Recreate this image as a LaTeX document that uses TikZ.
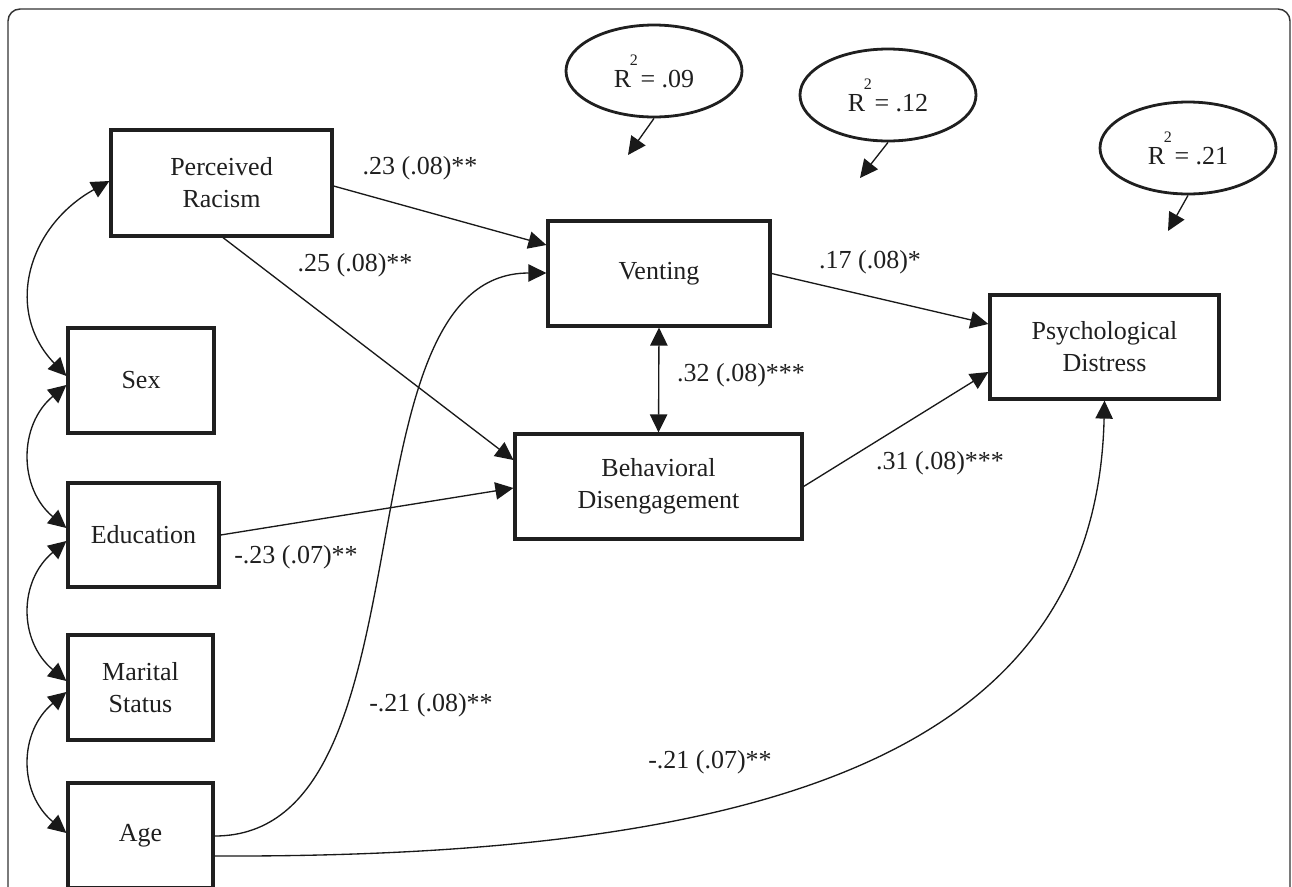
\documentclass[tikz,border=0pt]{standalone}
\usepackage{fontspec}
\setmainfont{Liberation Serif}
\usetikzlibrary{arrows.meta,calc,shapes.geometric}
\begin{document}
\begin{tikzpicture}[x=0.75pt,y=-0.75pt,
  font=\fontsize{19.5}{24}\selectfont,
  every node/.style={text=black!88},
  box/.style={draw=black!88,line width=2.4pt,rectangle,align=center,inner sep=0pt},
  rsq/.style={draw=black!88,line width=2.1pt,ellipse,minimum width=132pt,minimum height=69pt,inner sep=0pt},
  conn/.style={draw=black!90,line width=1pt,-{Triangle[length=13.5pt,width=13pt]}},
  dconn/.style={draw=black!90,line width=1pt,{Triangle[length=13.5pt,width=13pt]}-{Triangle[length=13.5pt,width=13pt]}},
  lab/.style={inner sep=0pt}
]
\useasboundingbox (0,0) rectangle (1292,886);
\draw[line width=1.1pt,black!80,rounded corners=9pt] (8,9) rectangle (1290,900);

% boxes
\node[box,minimum width=165.75pt,minimum height=79.5pt] (PR) at (221.5,183) {Perceived\\Racism};
\node[box,minimum width=109.5pt,minimum height=78.75pt] (Sex) at (141,380.5) {Sex};
\node[box,minimum width=113.25pt,minimum height=78pt] (Edu) at (143.5,535) {Education};
\node[box,minimum width=108.75pt,minimum height=78.75pt] (Mar) at (140.5,687.5) {Marital\\Status};
\node[box,minimum width=108.75pt,minimum height=78.75pt] (Age) at (140.5,835.5) {Age};
\node[box,minimum width=166.5pt,minimum height=78.75pt] (Vent) at (659,273.5) {Venting};
\node[box,minimum width=215.25pt,minimum height=78.75pt] (Beh) at (658.5,486.5) {Behavioral\\Disengagement};
\node[box,minimum width=171.75pt,minimum height=78pt] (Psy) at (1104.5,347) {Psychological\\Distress};

% R squared ellipses
\newcommand{\rsqtext}[1]{R\kern-1pt\raisebox{0.85em}{\fontsize{12}{12}\selectfont 2}\kern2pt= #1}
\node[rsq] (E1) at (654,71) {\rsqtext{.09}};
\node[rsq] (E2) at (888,95) {\rsqtext{.12}};
\node[rsq] (E3) at (1188,148) {\rsqtext{.21}};
\coordinate (t1) at (628,155);
\coordinate (t2) at (860,178);
\coordinate (t3) at (1168,231);
\draw[conn] (E1.south) -- (t1);
\draw[conn] (E2.south) -- (t2);
\draw[conn] (E3.south) -- (t3);

% paths
\draw[conn] ($(PR.east)+(0,3)$) -- ($(Vent.west)+(0,-28.5)$);
\draw[conn] ($(PR.south)+(1.5,0)$) -- ($(Beh.west)+(0,-26.5)$);
\draw[conn] (Vent.east) -- ($(Psy.west)+(0,-23)$);
\draw[conn] (Beh.east) -- ($(Psy.west)+(0,25)$);
\draw[dconn] (Vent.south) -- (Beh.north);
\draw[conn] (Edu.east) -- ($(Beh.west)+(0,1.5)$);
\draw[conn] ($(Age.east)+(0,0.5)$) .. controls +(225,0) and +(-215,0) .. ($(Vent.west)+(0,-0.5)$);
\draw[conn] ($(Age.east)+(0,20.5)$) .. controls +(560,2) and +(-8,350) .. (Psy.south);

% covariances
\draw[dconn] ($(PR.west)+(0,-2)$) .. controls +(-81,45) and +(-63,-66) .. ($(Sex.west)+(0,-4.5)$);
\draw[dconn] ($(Sex.west)+(0,4.5)$) .. controls +(-48,40) and +(-48,-40) .. ($(Edu.west)+(0,-7)$);
\draw[dconn] ($(Edu.west)+(0,6)$) .. controls +(-48,40) and +(-48,-40) .. ($(Mar.west)+(0,-6.5)$);
\draw[dconn] ($(Mar.west)+(0,4.5)$) .. controls +(-48,40) and +(-48,-40) .. ($(Age.west)+(0,-2.5)$);

% labels
\node[lab] (l1) at (420,168) {.23 (.08)**};
\node[lab] (l2) at (355,265) {.25 (.08)**};
\node[lab] (l3) at (870,262) {.17 (.08)*};
\node[lab] (l4) at (741,375) {.32 (.08)***};
\node[lab] (l5) at (940,463) {.31 (.08)***};
\node[lab] (l6) at (296,557) {-.23 (.07)**};
\node[lab] (l7) at (431,705) {-.21 (.08)**};
\node[lab] (l8) at (710,762) {-.21 (.07)**};
\end{tikzpicture}
\end{document}
